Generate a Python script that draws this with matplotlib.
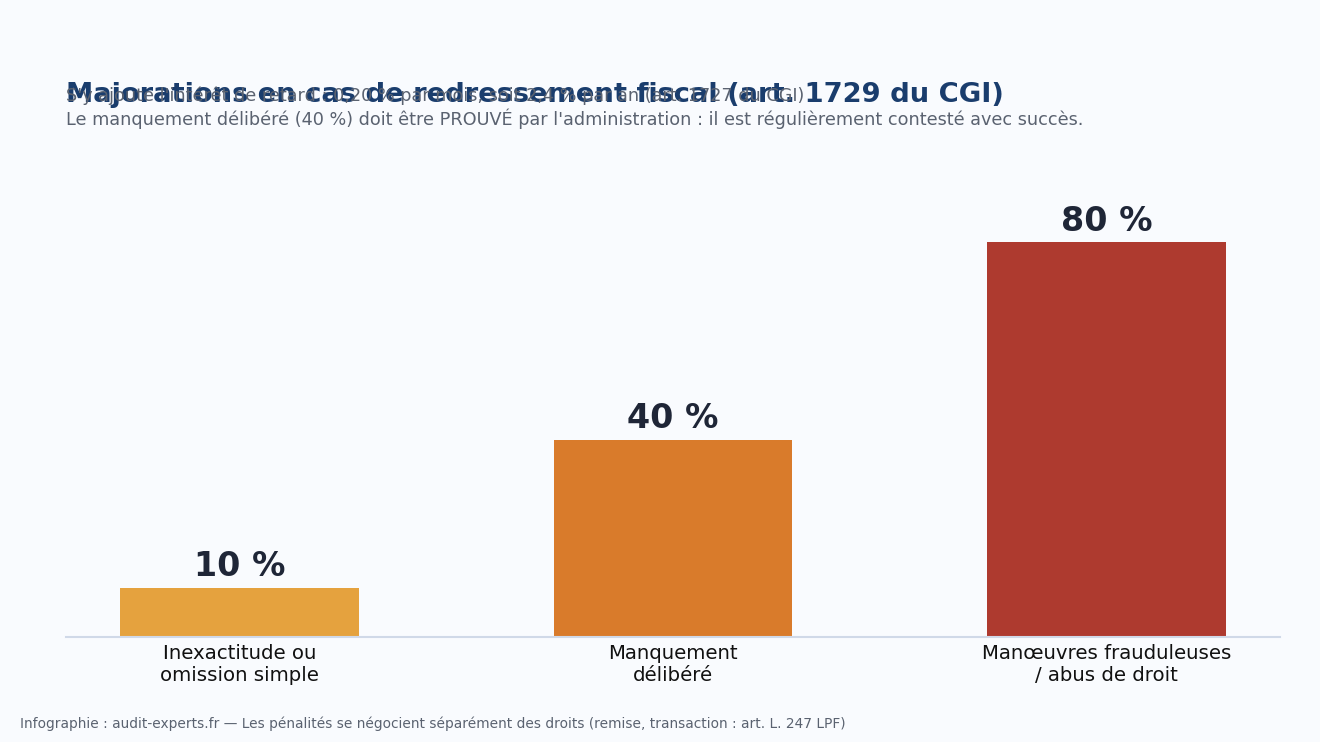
import matplotlib.pyplot as plt

categories = ["Inexactitude ou\nomission simple", "Manquement\ndélibéré", "Manœuvres frauduleuses\n/ abus de droit"]
values = [10, 40, 80]
value_labels = ["10 %", "40 %", "80 %"]
colors = ["#e5a23e", "#d97b2b", "#ae3a2f"]

title = "Majorations en cas de redressement fiscal (art. 1729 du CGI)"
sub1 = "S'y ajoute l'intérêt de retard : 0,20 % par mois, soit 2,4 % par an (art. 1727 du CGI)"
sub2 = "Le manquement délibéré (40 %) doit être PROUVÉ par l'administration : il est régulièrement contesté avec succès."
footer = "Infographie : audit-experts.fr — Les pénalités se négocient séparément des droits (remise, transaction : art. L. 247 LPF)"

bg = "#f9fbfe"
fig = plt.figure(figsize=(13.2, 7.42), dpi=100, facecolor=bg)
ax = fig.add_axes([0.05, 0.1415, 0.9197, 0.6115], facecolor=bg)

x = range(len(values))
ax.bar(x, values, width=0.55, color=colors)
for i, v in enumerate(values):
    ax.text(i, v + 0.9, value_labels[i], ha="center", va="bottom",
            fontsize=24, fontweight="bold", color="#1f2637")

ax.set_xlim(-0.4, 2.4)
ax.set_ylim(0, 92)
ax.set_xticks(list(x))
ax.set_xticklabels(categories, fontsize=14.2, color="#111111")
ax.tick_params(axis="x", length=0, pad=5)
ax.set_yticks([])
for s in ["top", "right", "left"]:
    ax.spines[s].set_visible(False)
ax.spines["bottom"].set_color("#d0d9e8")
ax.spines["bottom"].set_linewidth(1.5)

fig.text(0.05, 0.872, title, fontsize=19.7, fontweight="bold", color="#1a3d6d", va="center")
fig.text(0.05, 0.8706, sub1, fontsize=12.7, color="#5a6270", va="center")
fig.text(0.05, 0.8396, sub2, fontsize=12.7, color="#5a6270", va="center")
fig.text(0.0152, 0.025, footer, fontsize=9.95, color="#5a6270", va="center")

fig.savefig("out.png", dpi=100, facecolor=bg)
